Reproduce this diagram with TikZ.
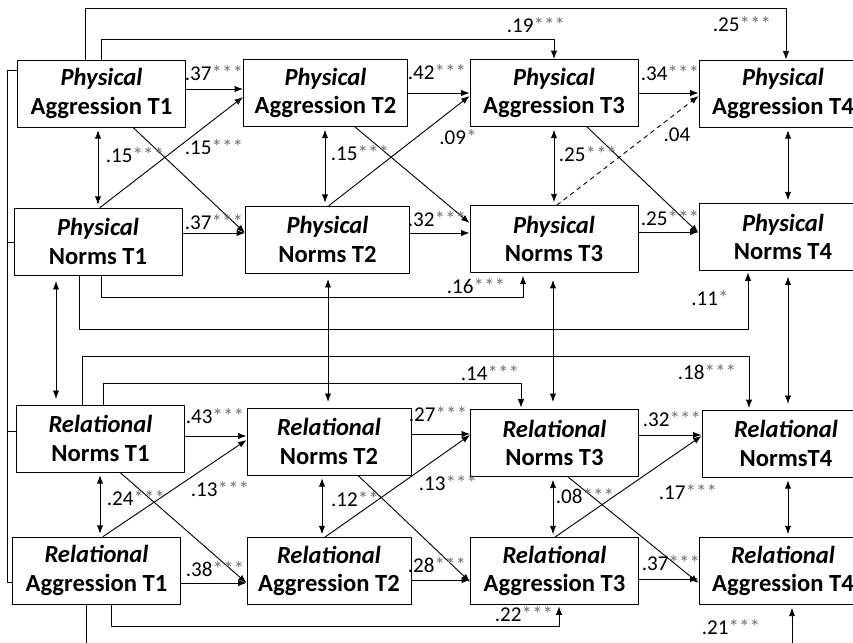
\documentclass[tikz,border=0pt]{standalone}
\usepackage{fontspec}
\setmainfont{Carlito}
\usetikzlibrary{arrows.meta,positioning}
\definecolor{stargray}{rgb}{0.45,0.45,0.45}
\newcommand{\stars}[1]{\textcolor{stargray}{#1}}

\begin{document}
\begin{tikzpicture}[line cap=round,line join=round,x=0.025cm,y=-0.025cm,
    var/.style={draw,line width=0.6pt,minimum width=4.2cm,minimum height=1.675cm,inner sep=0pt,align=center,
      font=\fontsize{17.5}{20.5}\selectfont\bfseries},
    lag/.style={line width=0.65pt,-{Latex[length=6pt,width=4.5pt]}},
    cov/.style={line width=0.65pt,{Latex[length=6pt,width=4.5pt]}-{Latex[length=6pt,width=4.5pt]},shorten >=2pt,shorten <=2pt},
    coef/.style={inner sep=0pt,font=\fontsize{15}{15}\selectfont}]
  \useasboundingbox (0,0) rectangle (853,643);
  \clip (0,0) rectangle (853,643);
  % variables
  \node[var] (PA1) at (101.5,93.5) {\textit{Physical}\\Aggression T1};
  \node[var,minimum width=4.1cm] (PA2) at (325.5,93) {\textit{Physical}\\Aggression T2};
  \node[var] (PA3) at (554,93) {\textit{Physical}\\Aggression T3};
  \node[var] (PA4) at (783,93.5) {\textit{Physical}\\Aggression T4};
  \node[var] (PN1) at (98,241.5) {\textit{Physical}\\Norms T1};
  \node[var,minimum width=4.1cm] (PN2) at (327.5,239.5) {\textit{Physical}\\Norms T2};
  \node[var] (PN3) at (554,239) {\textit{Physical}\\Norms T3};
  \node[var] (PN4) at (783,237) {\textit{Physical}\\Norms T4};
  \node[var] (RN1) at (100.5,438.5) {\textit{Relational}\\Norms T1};
  \node[var,minimum width=4.1cm] (RN2) at (329,441.5) {\textit{Relational}\\Norms T2};
  \node[var] (RN3) at (554.5,443) {\textit{Relational}\\Norms T3};
  \node[var] (RN4) at (786,443.5) {\textit{Relational}\\NormsT4};
  \node[var] (RA1) at (96.5,570.5) {\textit{Relational}\\Aggression T1};
  \node[var,minimum width=4.1cm] (RA2) at (329,571) {\textit{Relational}\\Aggression T2};
  \node[var] (RA3) at (554.5,571) {\textit{Relational}\\Aggression T3};
  \node[var] (RA4) at (783,571) {\textit{Relational}\\Aggression T4};

  % T1 correlations
  \draw[line width=0.65pt] (PA1.west |- 0,70) -- (7,70) -- (7,582) -- (RA1.west |- 0,582);
  \draw[line width=0.65pt] (7,242) -- (PN1.west |- 0,242);
  \draw[line width=0.65pt] (7,431) -- (RN1.west |- 0,431);

  % physical block
  \draw[lag] (PA1.east |- 0,89) -- (PA2.west |- 0,89);
  \draw[lag] (PA2.east |- 0,93) -- (PA3.west |- 0,93);
  \draw[lag] (PA3.east |- 0,93) -- (PA4.west |- 0,93);
  \draw[lag] (PN1.east |- 0,233) -- (PN2.west |- 0,233);
  \draw[lag] (PN2.east |- 0,233) -- (PN3.west |- 0,233);
  \draw[lag] (PN3.east |- 0,232) -- (PN4.west |- 0,232);
  \draw[lag] (PN1.north -| 100,0) -- (PA2.west |- 0,97);
  \draw[lag] (PA1.south -| 133,0) -- (PN2.west |- 0,233);
  \draw[lag] (PN2.north -| 329,0) -- (PA3.west |- 0,96);
  \draw[lag] (PA2.south -| 355,0) -- (PN3.west |- 0,223);
  \draw[lag,dashed] (PN3.north -| 557,0) -- (PA4.west |- 0,96);
  \draw[lag] (PA3.south -| 587,0) -- (PN4.west |- 0,233);
  \draw[cov] (PA1.south -| 98,0) -- (PN1.north -| 98,0);
  \draw[cov] (PA2.south -| 325,0) -- (PN2.north -| 325,0);
  \draw[cov] (PA3.south -| 554,0) -- (PN3.north -| 554,0);
  \draw[cov] (PA4.south -| 788,0) -- (PN4.north -| 788,0);
  \draw[lag] (PA1.north -| 85,0) -- (85,8) -- (786,8) -- (PA4.north -| 786,0);
  \draw[lag] (PA1.north -| 101,0) -- (101,39) -- (554,39) -- (PA3.north -| 554,0);
  \draw[lag,shorten >=2pt] (PN1.south -| 101,0) -- (101,297) -- (523,297) -- (PN3.south -| 523,0);
  \draw[lag,shorten >=1pt] (PN1.south -| 79,0) -- (79,329) -- (748,329) -- (PN4.south -| 748,0);

  % between blocks
  \draw[cov,shorten >=4pt,shorten <=4pt] (PN1.south -| 56,0) -- (RN1.north -| 56,0);
  \draw[cov,shorten >=4pt,shorten <=4pt] (PN2.south -| 328,0) -- (RN2.north -| 328,0);
  \draw[cov,shorten >=5pt,shorten <=5pt] (PN3.south -| 553,0) -- (RN3.north -| 553,0);
  \draw[cov,shorten >=4pt,shorten <=4pt] (PN4.south -| 788,0) -- (RN4.north -| 788,0);
  \draw[lag,shorten >=1pt] (RN1.north -| 82,0) -- (82,356) -- (749,356) -- (RN4.north -| 749,0);
  \draw[lag,shorten >=1pt] (RN1.north -| 103,0) -- (103,383) -- (521,383) -- (RN3.north -| 521,0);

  % relational block
  \draw[lag] (RN1.east |- 0,436) -- (RN2.west |- 0,436);
  \draw[lag] (RN2.east |- 0,434) -- (RN3.west |- 0,434);
  \draw[lag] (RN3.east |- 0,435) -- (RN4.west |- 0,435);
  \draw[lag] (RA1.east |- 0,583) -- (RA2.west |- 0,583);
  \draw[lag] (RA2.east |- 0,580) -- (RA3.west |- 0,580);
  \draw[lag] (RA3.east |- 0,579) -- (RA4.west |- 0,579);
  \draw[lag] (RA1.north -| 103,0) -- (RN2.west |- 0,440);
  \draw[lag] (RN1.south -| 120,0) -- (RA2.west |- 0,583);
  \draw[lag] (RA2.north -| 325,0) -- (RN3.west |- 0,435);
  \draw[lag] (RN2.south -| 358,0) -- (RA3.west |- 0,582);
  \draw[lag] (RA3.north -| 555,0) -- (RN4.west |- 0,436);
  \draw[lag] (RN3.south -| 568,0) -- (RA4.west |- 0,583);
  \draw[cov] (RN1.south -| 100,0) -- (RA1.north -| 100,0);
  \draw[cov] (RN2.south -| 322,0) -- (RA2.north -| 322,0);
  \draw[cov] (RN3.south -| 553,0) -- (RA3.north -| 553,0);
  \draw[cov] (RN4.south -| 788,0) -- (RA4.north -| 788,0);
  \draw[lag,shorten >=1pt] (RA1.south -| 111,0) -- (111,626) -- (559,626) -- (RA3.south -| 559,0);
  \draw[lag,shorten >=2pt] (RA1.south -| 86,0) -- (86,660) -- (792,660) -- (RA4.south -| 792,0);

  % coefficients
  \node[coef] (c-pa14) at (742,24) {.25\stars{***}};
  \node[coef] (c-pa13) at (536,25) {.19\stars{***}};
  \node[coef] (c-pa12) at (214,73) {.37\stars{***}};
  \node[coef] (c-pa23) at (437,72) {.42\stars{***}};
  \node[coef] (c-pa34) at (670,73) {.34\stars{***}};
  \node[coef] (c-r1) at (135,155) {.15\stars{***}};
  \node[coef] (c-x1) at (214,147) {.15\stars{***}};
  \node[coef] (c-r2) at (360,153) {.15\stars{***}};
  \node[coef] (c-x2) at (458,137) {.09\stars{*}};
  \node[coef] (c-r3) at (588,154) {.25\stars{***}};
  \node[coef] (c-x3) at (677,135) {.04};
  \node[coef] (c-pn12) at (214,222) {.37\stars{***}};
  \node[coef] (c-pn23) at (437,219) {.32\stars{***}};
  \node[coef] (c-pn34) at (670,218) {.25\stars{***}};
  \node[coef] (c-pn13) at (476,286) {.16\stars{***}};
  \node[coef] (c-pn14) at (710,298) {.11\stars{*}};
  \node[coef] (c-rn13) at (490,373) {.14\stars{***}};
  \node[coef] (c-rn14) at (707,372) {.18\stars{***}};
  \node[coef] (c-rn12) at (215,416) {.43\stars{***}};
  \node[coef] (c-rn23) at (438,414) {.27\stars{***}};
  \node[coef] (c-rn34) at (672,419) {.32\stars{***}};
  \node[coef] (c-r5) at (136,498) {.24\stars{***}};
  \node[coef] (c-x5) at (220,489) {.13\stars{***}};
  \node[coef] (c-r6) at (355,499) {.12\stars{**}};
  \node[coef] (c-x6) at (448,483) {.13\stars{***}};
  \node[coef] (c-r7) at (585,496) {.08\stars{***}};
  \node[coef] (c-x7) at (688,492) {.17\stars{***}};
  \node[coef] (c-ra12) at (215,569) {.38\stars{***}};
  \node[coef] (c-ra23) at (437,565) {.28\stars{***}};
  \node[coef] (c-ra34) at (671,563) {.37\stars{***}};
  \node[coef] (c-ra13) at (524,614) {.22\stars{***}};
  \node[coef] (c-ra14) at (731,627) {.21\stars{***}};
\end{tikzpicture}
\end{document}
